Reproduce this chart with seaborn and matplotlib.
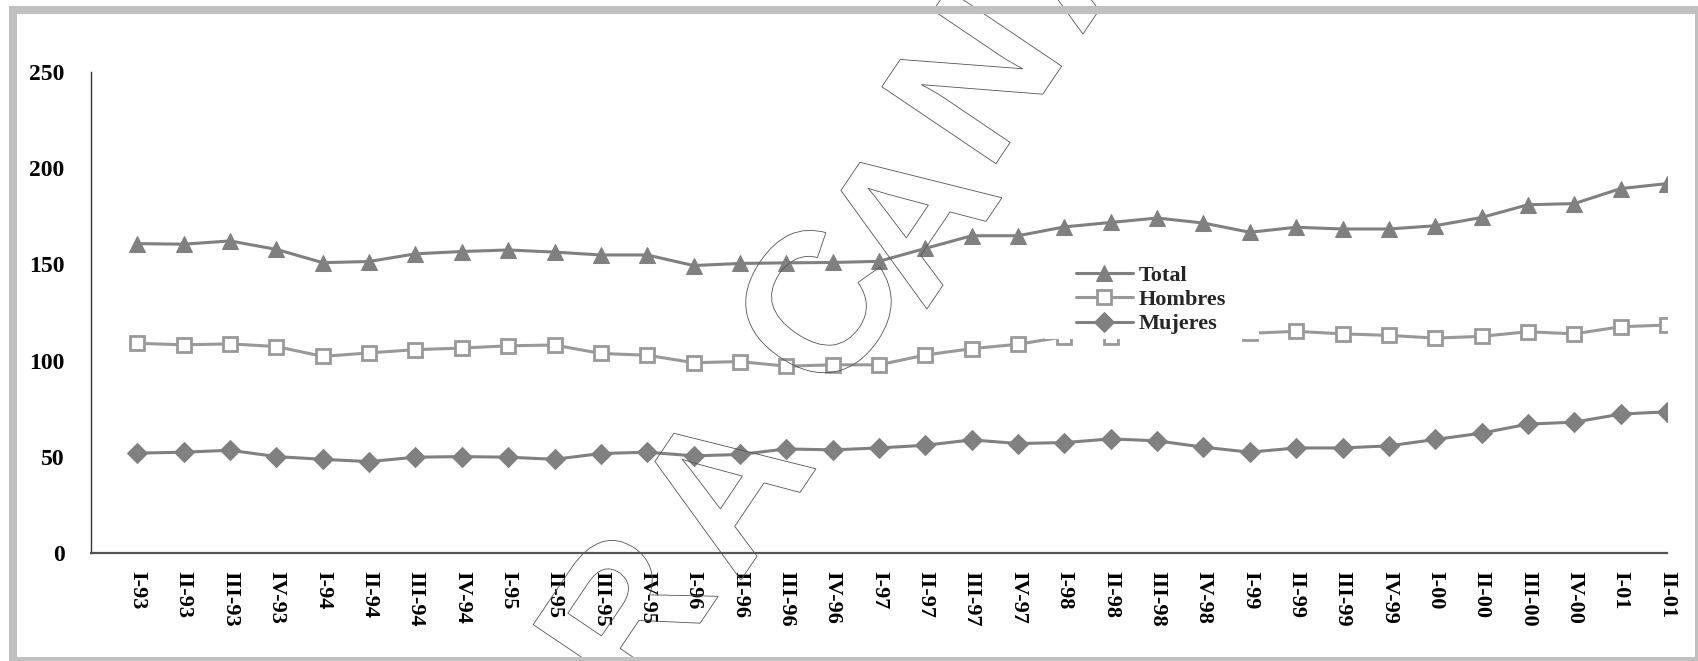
import numpy as np
import pandas as pd
import matplotlib
matplotlib.use("Agg")
import matplotlib.pyplot as plt
from matplotlib.patches import Rectangle, PathPatch
from matplotlib.textpath import TextPath
from matplotlib.font_manager import FontProperties
from matplotlib.transforms import Affine2D
import seaborn as sns

quarters = ["I-93", "II-93", "III-93", "IV-93", "I-94", "II-94", "III-94", "IV-94",
            "I-95", "II-95", "III-95", "IV-95", "I-96", "II-96", "III-96", "IV-96",
            "I-97", "II-97", "III-97", "IV-97", "I-98", "II-98", "III-98", "IV-98",
            "I-99", "II-99", "III-99", "IV-99", "I-00", "II-00", "III-00", "IV-00",
            "I-01", "II-01"]

total = [160.8, 160.5, 162.2, 157.8, 150.9, 151.5, 155.5, 156.7, 157.5, 156.4,
         154.9, 154.9, 149.4, 150.5, 150.8, 151.0, 151.6, 158.3, 164.9, 164.9,
         169.5, 171.8, 174.1, 171.5, 166.7, 169.3, 168.4, 168.4, 170.1, 174.4,
         181.0, 181.6, 189.4, 192.0]
hombres = [109.0, 108.2, 108.7, 107.3, 102.2, 104.0, 105.7, 106.5, 107.7, 108.1,
           103.7, 102.8, 98.9, 99.5, 97.1, 97.8, 97.8, 102.9, 106.2, 108.5,
           112.4, 112.4, 115.8, 116.5, 114.2, 115.2, 113.9, 113.1, 111.7, 112.6,
           115.0, 113.9, 117.6, 118.5]
mujeres = [51.9, 52.4, 53.4, 50.1, 48.7, 47.5, 49.8, 50.1, 49.8, 48.7,
           51.7, 52.4, 50.5, 51.2, 54.1, 53.6, 54.6, 56.0, 58.8, 56.9,
           57.4, 59.3, 58.3, 55.0, 52.4, 54.6, 54.6, 55.7, 59.0, 62.3,
           67.0, 68.0, 72.2, 73.4]

# watermark letters (outlined, diagonal) and their centres in pixels from top-left
wm_letters = ["A", "R", "A", "C", "A", "N", "A"]
wm_centres = [(536, 759), (622, 616), (720, 488), (815, 307), (906, 217),
              (968, 82), (1062, -58)]

W, H = 1698, 661


def main():
    sns.set_theme(style="white")
    plt.rcParams["font.family"] = ["Liberation Serif", "DejaVu Serif"]
    plt.rcParams["font.weight"] = "bold"

    fig = plt.figure(figsize=(W / 100, H / 100), dpi=100)
    fig.patch.set_facecolor("white")
    ax = fig.add_axes([91 / W, 108 / H, (1667 - 91) / W, (553 - 72) / H])

    x = np.arange(len(quarters))
    dark = "#808080"
    light = "#999999"
    sns.lineplot(x=x, y=total, ax=ax, color=dark, lw=2.2, marker="^",
                 markersize=11.5, markerfacecolor=dark, markeredgecolor=dark,
                 label="Total")
    sns.lineplot(x=x, y=hombres, ax=ax, color=light, lw=2.2, marker="s",
                 markersize=9.5, markerfacecolor="white", markeredgecolor=light,
                 markeredgewidth=2.0, label="Hombres")
    sns.lineplot(x=x, y=mujeres, ax=ax, color=dark, lw=2.2, marker="D",
                 markersize=10, markerfacecolor=dark, markeredgecolor=dark,
                 label="Mujeres")

    ax.set_xlim(-1, len(quarters) - 1)
    ax.set_ylim(0, 250)
    ax.set_yticks([0, 50, 100, 150, 200, 250])
    ax.set_xticks(x)
    ax.set_xticklabels(quarters, rotation=270, fontsize=16, fontweight="bold")
    ax.tick_params(axis="y", labelsize=17, direction="in", length=6, width=1,
                   pad=19, colors="black")
    ax.tick_params(axis="x", direction="in", length=6, width=1, pad=13,
                   colors="black")
    for t in ax.get_yticklabels():
        t.set_fontweight("bold")
    for s in ["top", "right"]:
        ax.spines[s].set_visible(False)
    ax.spines["left"].set_color("#333333")
    ax.spines["bottom"].set_color("#555555")
    ax.spines["left"].set_linewidth(1.0)
    ax.spines["bottom"].set_linewidth(1.6)
    ax.set_xlabel("")
    ax.set_ylabel("")

    # white legend area, hides the lines behind it
    ax.add_patch(Rectangle((1045 / W, 1 - 339 / H), (1259 - 1045) / W,
                           (339 - 257) / H, transform=fig.transFigure,
                           facecolor="white", edgecolor="none", zorder=3,
                           clip_on=False))

    leg = ax.legend(loc="upper left", bbox_to_anchor=(1070 / W, 1 - 260 / H),
                    bbox_transform=fig.transFigure, frameon=False,
                    prop={"size": 16, "weight": "bold"}, handlelength=2.6,
                    handletextpad=0.25, labelspacing=0.16, borderpad=0.25,
                    borderaxespad=0)
    leg.set_zorder(5)

    # watermark: outlined letters placed one by one
    fp = FontProperties(family="Liberation Sans", weight="bold")
    for ch, (cx, cy) in zip(wm_letters, wm_centres):
        tp = TextPath((0, 0), ch, size=200, prop=fp)
        v = tp.vertices
        mx = (v[:, 0].min() + v[:, 0].max()) / 2
        my = (v[:, 1].min() + v[:, 1].max()) / 2
        tr = Affine2D().translate(-mx, -my).rotate_deg(56).translate(cx, H - cy)
        fig.patches.append(PathPatch(tr.transform_path(tp), facecolor="none",
                                     edgecolor="#555555", lw=0.6, zorder=10))

    # gray frame
    fig.patches.append(Rectangle((13.4 / W, 0), (1698.5 - 13.4) / W, 1 - 10 / H,
                                 transform=fig.transFigure, fill=False,
                                 edgecolor="#c0c0c0", linewidth=5.8,
                                 clip_on=False, zorder=11))

    fig.savefig("out.png", dpi=100)


if __name__ == "__main__":
    main()
